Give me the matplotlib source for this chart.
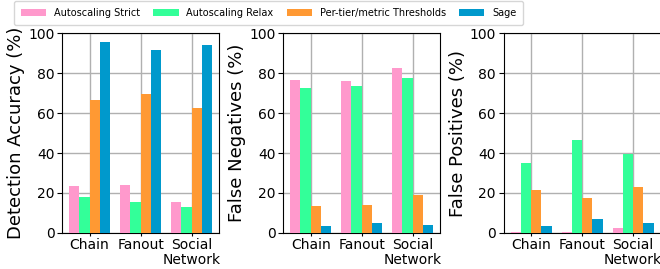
import matplotlib.pyplot as plt
import numpy as np

workloads = ['Chain', 'Fanout', 'Social\nNetwork']
methods = ['Autoscaling Strict', 'Autoscaling Relax', 'Per-tier/metric Thresholds', 'Sage']
colors = ['#ff99cc', '#33ff99', '#ff9933', '#0099cc']

# rows: methods, columns: workloads
accuracy = [[23.4, 23.9, 15.4],
            [17.9, 15.4, 12.9],
            [66.6, 69.7, 62.5],
            [95.7, 91.6, 94.1]]
false_neg = [[76.6, 76.1, 82.6],
             [72.4, 73.6, 77.6],
             [13.4, 14.0, 18.9],
             [3.3, 4.8, 3.8]]
false_pos = [[0.3, 0.3, 2.3],
             [34.9, 46.5, 39.6],
             [21.4, 17.4, 22.9],
             [3.3, 6.9, 5.0]]

panels = [(accuracy, 'Detection Accuracy (%)'),
          (false_neg, 'False Negatives (%)'),
          (false_pos, 'False Positives (%)')]

fig = plt.figure(figsize=(6.6, 2.69), dpi=100)
lefts = [0.094, 0.429, 0.763]
x = np.arange(len(workloads))
w = 0.2

for left, (vals, ylabel) in zip(lefts, panels):
    ax = fig.add_axes([left, 0.134, 0.238, 0.743])
    for j, m in enumerate(methods):
        ax.bar(x + (j - 1.5) * w, vals[j], w, color=colors[j], label=m, zorder=3)
    ax.set_xticks(x)
    ax.set_xticklabels(workloads, fontsize=10, linespacing=1.1)
    ax.set_ylim(0, 100)
    ax.set_yticks([0, 20, 40, 60, 80, 100])
    ax.tick_params(axis='y', labelsize=10, pad=2)
    ax.tick_params(axis='x', length=2.5, pad=1)
    ax.set_ylabel(ylabel, fontsize=13, labelpad=2)
    ax.grid(True, color='#b0b0b0', linewidth=1, zorder=0)
    ax.set_axisbelow(True)

handles, labels = ax.get_legend_handles_labels()
fig.legend(handles, labels, loc='upper left', bbox_to_anchor=(0.02, 1.0), ncol=4,
           fontsize=7, handlelength=2.6, columnspacing=1.35, borderpad=0.7,
           borderaxespad=0.1)

fig.savefig('out.png', dpi=100)
